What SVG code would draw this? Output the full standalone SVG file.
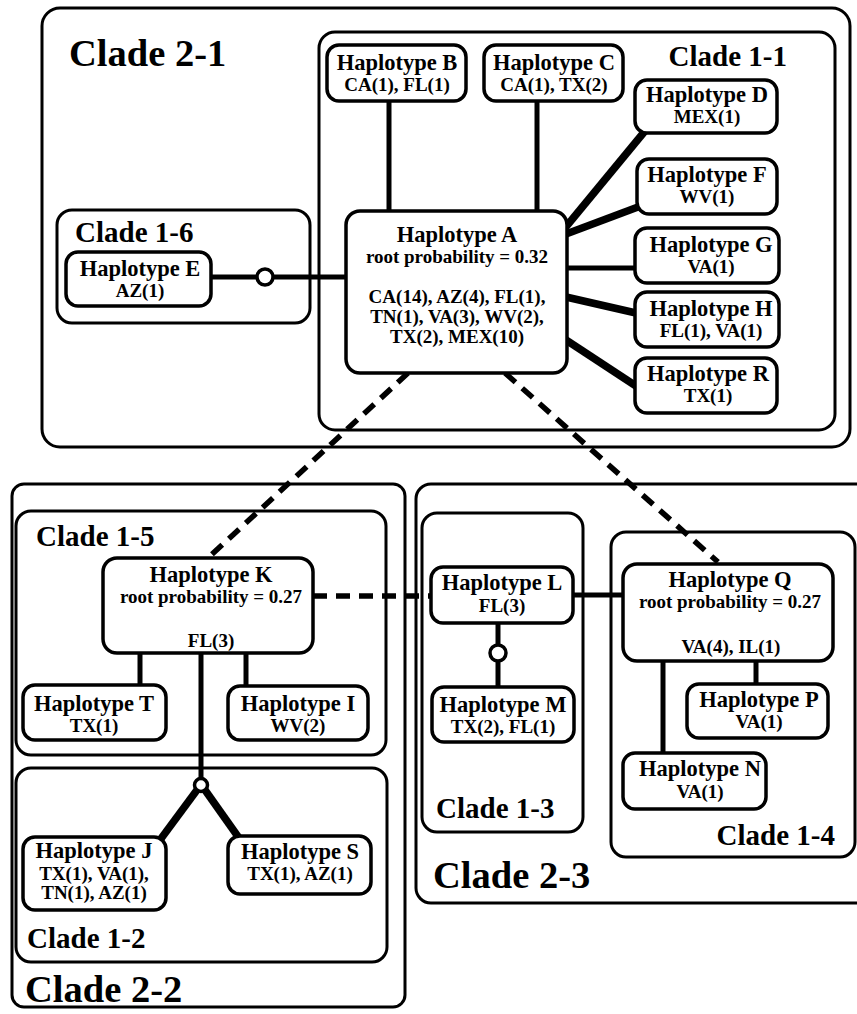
<svg xmlns="http://www.w3.org/2000/svg" width="857" height="1014" viewBox="0 0 857 1014">
<style>
.clade{fill:none;stroke:#000;stroke-width:3}
.node rect{fill:#fff;stroke:#000;stroke-width:3.5}
.nm{font-family:"Liberation Serif","Times New Roman",serif;font-weight:bold;font-size:22.5px;text-anchor:middle}
.sb{font-family:"Liberation Serif","Times New Roman",serif;font-weight:bold;font-size:19px;text-anchor:middle}
.c1{font-family:"Liberation Serif","Times New Roman",serif;font-weight:bold;font-size:29px}
.c2{font-family:"Liberation Serif","Times New Roman",serif;font-weight:bold;font-size:38.5px}
.ln{stroke:#000;stroke-width:5;fill:none}
.thk{stroke-width:7.5}
.dash{stroke:#000;stroke-width:5.5;fill:none;stroke-dasharray:14 9}
.mv{fill:#fff;stroke:#000;stroke-width:3.5}
</style>
<rect width="857" height="1014" fill="#fff"/>

<g id="clade-2-1">
<rect class="clade" x="42" y="8" width="808" height="439" rx="18"/>
<text class="c2" x="69" y="66">Clade 2-1</text>
</g>
<g id="clade-1-1">
<rect class="clade" x="319" y="32" width="516" height="398" rx="16"/>
<text class="c1" x="787" y="66" text-anchor="end">Clade 1-1</text>
</g>
<g id="clade-1-6">
<rect class="clade" x="57" y="210" width="253" height="113" rx="15"/>
<text class="c1" x="75" y="242">Clade 1-6</text>
</g>
<g id="clade-2-2">
<rect class="clade" x="12" y="484" width="393" height="523" rx="12"/>
<text class="c2" x="25" y="1002">Clade 2-2</text>
</g>
<g id="clade-1-5">
<rect class="clade" x="16" y="511" width="370" height="244" rx="15"/>
<text class="c1" x="36" y="546">Clade 1-5</text>
</g>
<g id="clade-1-2">
<rect class="clade" x="16" y="768" width="371" height="194" rx="15"/>
<text class="c1" x="27" y="948">Clade 1-2</text>
</g>
<g id="clade-2-3">
<rect class="clade" x="416" y="484" width="460" height="419" rx="15"/>
<text class="c2" x="433" y="888">Clade 2-3</text>
</g>
<g id="clade-1-3">
<rect class="clade" x="422" y="513" width="161" height="319" rx="15"/>
<text class="c1" x="436" y="818">Clade 1-3</text>
</g>
<g id="clade-1-4">
<rect class="clade" x="611" y="532" width="244" height="325" rx="15"/>
<text class="c1" x="835" y="845" text-anchor="end">Clade 1-4</text>
</g>

<g id="connectors">
<line class="ln" x1="389" y1="101" x2="389" y2="211"/>
<line class="ln" x1="537" y1="101" x2="537" y2="211"/>
<line class="ln thk" x1="645" y1="131" x2="565" y2="228"/>
<line class="ln thk" x1="566" y1="234" x2="638" y2="207"/>
<line class="ln" x1="567" y1="268" x2="635" y2="268"/>
<line class="ln thk" x1="566" y1="297" x2="636" y2="313"/>
<line class="ln thk" x1="566" y1="340" x2="636" y2="386"/>
<line class="ln" x1="211" y1="277" x2="346" y2="277"/>
<line class="dash" x1="408" y1="373" x2="209" y2="557"/>
<line class="dash" x1="505" y1="373" x2="718" y2="562"/>
<line class="dash" x1="313" y1="596" x2="431" y2="596" stroke-dasharray="13 9"/>
<line class="ln" x1="140" y1="653" x2="140" y2="685"/>
<line class="ln" x1="246" y1="653" x2="246" y2="686"/>
<line class="ln" x1="201" y1="653" x2="201" y2="779"/>
<line class="ln thk" x1="197" y1="790" x2="160" y2="840"/>
<line class="ln thk" x1="205" y1="790" x2="239" y2="838"/>
<line class="ln" x1="573" y1="595" x2="623" y2="595"/>
<line class="ln" x1="498" y1="623" x2="498" y2="687"/>
<line class="ln" x1="663" y1="661" x2="663" y2="753"/>
<line class="ln" x1="756" y1="661" x2="756" y2="684"/>
<circle class="mv" cx="265" cy="277" r="8"/>
<circle class="mv" cx="201" cy="785" r="6.5"/>
<circle class="mv" cx="498" cy="653" r="8"/>
</g>

<g id="haplotype-A" class="node">
<rect x="346" y="211" width="221" height="162" rx="14"/>
<text class="nm" x="457" y="242">Haplotype A</text>
<text class="sb" x="457" y="263">root probability = 0.32</text>
<text class="sb" x="457" y="303">CA(14), AZ(4), FL(1),</text>
<text class="sb" x="457" y="323">TN(1), VA(3), WV(2),</text>
<text class="sb" x="457" y="343">TX(2), MEX(10)</text>
</g>
<g id="haplotype-B" class="node">
<rect x="327" y="45" width="139" height="56" rx="12"/>
<text class="nm" x="397" y="70">Haplotype B</text>
<text class="sb" x="397" y="91">CA(1), FL(1)</text>
</g>
<g id="haplotype-C" class="node">
<rect x="484" y="45" width="139" height="56" rx="12"/>
<text class="nm" x="554" y="70">Haplotype C</text>
<text class="sb" x="554" y="91">CA(1), TX(2)</text>
</g>
<g id="haplotype-D" class="node">
<rect x="635" y="80" width="142" height="53" rx="12"/>
<text class="nm" x="707" y="102">Haplotype D</text>
<text class="sb" x="707" y="123">MEX(1)</text>
</g>
<g id="haplotype-F" class="node">
<rect x="637" y="159" width="140" height="55" rx="12"/>
<text class="nm" x="707" y="182">Haplotype F</text>
<text class="sb" x="707" y="203">WV(1)</text>
</g>
<g id="haplotype-G" class="node">
<rect x="635" y="228" width="144" height="55" rx="12"/>
<text class="nm" x="711" y="252">Haplotype G</text>
<text class="sb" x="711" y="273">VA(1)</text>
</g>
<g id="haplotype-H" class="node">
<rect x="635" y="292" width="144" height="55" rx="12"/>
<text class="nm" x="711" y="316">Haplotype H</text>
<text class="sb" x="711" y="337">FL(1), VA(1)</text>
</g>
<g id="haplotype-R" class="node">
<rect x="635" y="358" width="142" height="55" rx="12"/>
<text class="nm" x="708" y="381">Haplotype R</text>
<text class="sb" x="708" y="402">TX(1)</text>
</g>
<g id="haplotype-E" class="node">
<rect x="66" y="252" width="145" height="54" rx="12"/>
<text class="nm" x="140" y="276">Haplotype E</text>
<text class="sb" x="140" y="297">AZ(1)</text>
</g>
<g id="haplotype-K" class="node">
<rect x="103" y="558" width="210" height="95" rx="14"/>
<text class="nm" x="211" y="582">Haplotype K</text>
<text class="sb" x="211" y="603">root probability = 0.27</text>
<text class="sb" x="211" y="647">FL(3)</text>
</g>
<g id="haplotype-T" class="node">
<rect x="23" y="685" width="143" height="55" rx="12"/>
<text class="nm" x="94" y="711">Haplotype T</text>
<text class="sb" x="94" y="732">TX(1)</text>
</g>
<g id="haplotype-I" class="node">
<rect x="228" y="686" width="140" height="54" rx="12"/>
<text class="nm" x="298" y="711">Haplotype I</text>
<text class="sb" x="298" y="732">WV(2)</text>
</g>
<g id="haplotype-J" class="node">
<rect x="23" y="837" width="143" height="73" rx="12"/>
<text class="nm" x="94" y="858">Haplotype J</text>
<text class="sb" x="94" y="880">TX(1), VA(1),</text>
<text class="sb" x="94" y="899">TN(1), AZ(1)</text>
</g>
<g id="haplotype-S" class="node">
<rect x="228" y="836" width="143" height="58" rx="12"/>
<text class="nm" x="300" y="859">Haplotype S</text>
<text class="sb" x="300" y="880">TX(1), AZ(1)</text>
</g>
<g id="haplotype-L" class="node">
<rect x="431" y="567" width="142" height="56" rx="12"/>
<text class="nm" x="502" y="590">Haplotype L</text>
<text class="sb" x="502" y="612">FL(3)</text>
</g>
<g id="haplotype-M" class="node">
<rect x="432" y="687" width="142" height="55" rx="12"/>
<text class="nm" x="503" y="712">Haplotype M</text>
<text class="sb" x="503" y="733">TX(2), FL(1)</text>
</g>
<g id="haplotype-Q" class="node">
<rect x="623" y="564" width="210" height="97" rx="14"/>
<text class="nm" x="730" y="587">Haplotype Q</text>
<text class="sb" x="730" y="608">root probability = 0.27</text>
<text class="sb" x="731" y="653">VA(4), IL(1)</text>
</g>
<g id="haplotype-P" class="node">
<rect x="687" y="684" width="141" height="54" rx="12"/>
<text class="nm" x="759" y="707">Haplotype P</text>
<text class="sb" x="759" y="728">VA(1)</text>
</g>
<g id="haplotype-N" class="node">
<rect x="623" y="753" width="143" height="56" rx="12"/>
<text class="nm" x="700" y="776">Haplotype N</text>
<text class="sb" x="700" y="798">VA(1)</text>
</g>
</svg>
